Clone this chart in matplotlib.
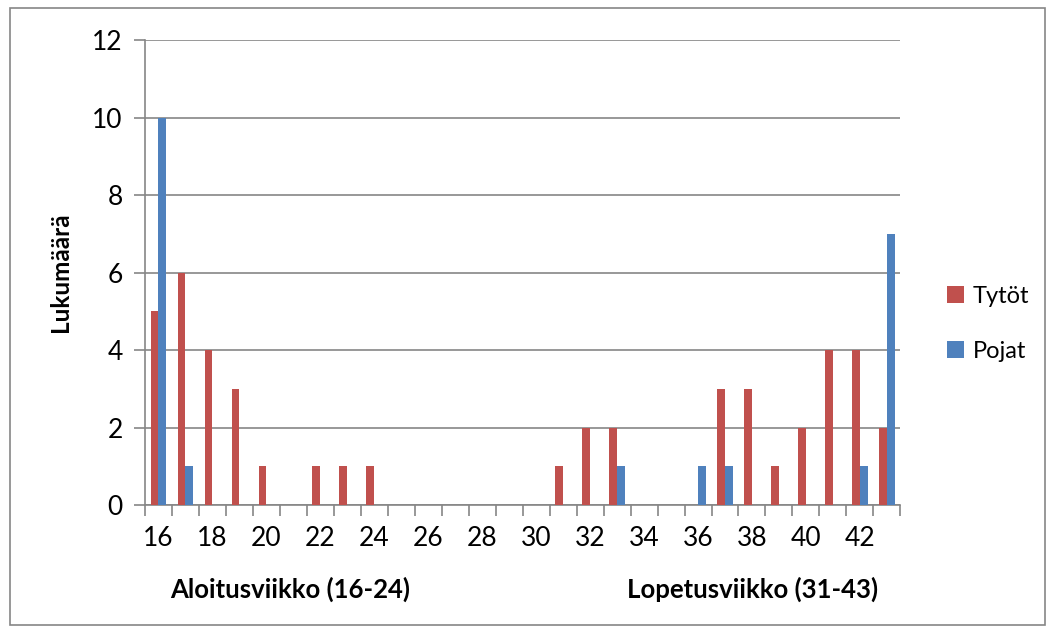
import numpy as np
import matplotlib.pyplot as plt
from matplotlib.patches import Rectangle

plt.rcParams['font.family'] = ['Lato', 'DejaVu Sans']

# ============ Data ============
weeks = list(range(16, 44))
tytot = [5, 6, 4, 3, 1, 0, 1, 1, 1, 0, 0, 0, 0, 0, 0, 1, 2, 2, 0, 0, 0, 3, 3, 1, 2, 4, 4, 2]
pojat = [10, 1, 0, 0, 0, 0, 0, 0, 0, 0, 0, 0, 0, 0, 0, 0, 0, 1, 0, 0, 1, 1, 0, 0, 0, 0, 1, 7]
tick_labels = [str(w) for w in weeks[::2]]

red = '#C0504D'
blue = '#4F81BD'
grey = '#868686'

fig = plt.figure(figsize=(10.58, 6.35), dpi=100)
fig.patches.append(Rectangle((0.009, 0.016), 0.979, 0.972, transform=fig.transFigure,
                             fill=False, edgecolor=grey, linewidth=1.2))
ax = fig.add_axes([0.137, 0.2047, 0.714, 0.7323])

x = np.arange(len(weeks))
w = 0.29
ax.bar(x - w / 2, tytot, width=w, color=red, label='Tytöt', zorder=3)
ax.bar(x + w / 2, pojat, width=w, color=blue, label='Pojat', zorder=3)

ax.set_xlim(-0.5, len(weeks) - 0.5)
ax.set_ylim(0, 12)
ax.set_yticks(range(0, 13, 2))
ax.yaxis.grid(True, color=grey, linewidth=1.2, zorder=0)
ax.tick_params(axis='y', length=8, width=1.2, color=grey, labelsize=19, pad=8)

ax.set_xticks(x[::2])
ax.set_xticklabels(tick_labels)
ax.set_xticks(np.arange(-0.5, len(weeks)), minor=True)
ax.tick_params(axis='x', which='major', length=0, labelsize=19, pad=15)
ax.tick_params(axis='x', which='minor', length=8, width=1.2, color=grey)

for s in ['top', 'right']:
    ax.spines[s].set_visible(False)
for s in ['left', 'bottom']:
    ax.spines[s].set_color(grey)
    ax.spines[s].set_linewidth(1.2)

ax.set_ylabel('Lukumäärä', fontsize=17.5, fontweight='bold')
ax.yaxis.set_label_coords(-0.097, 0.5)

fig.text(0.274, 0.058, 'Aloitusviikko (16-24)', fontsize=18.5, fontweight='bold', ha='center')
fig.text(0.711, 0.058, 'Lopetusviikko (31-43)', fontsize=18.5, fontweight='bold', ha='center')

fig.legend(loc='center left', bbox_to_anchor=(0.875, 0.49), frameon=False, fontsize=17,
           handlelength=0.7, handleheight=0.7, labelspacing=1.45, handletextpad=0.4)

fig.savefig('out.png', dpi=100)
